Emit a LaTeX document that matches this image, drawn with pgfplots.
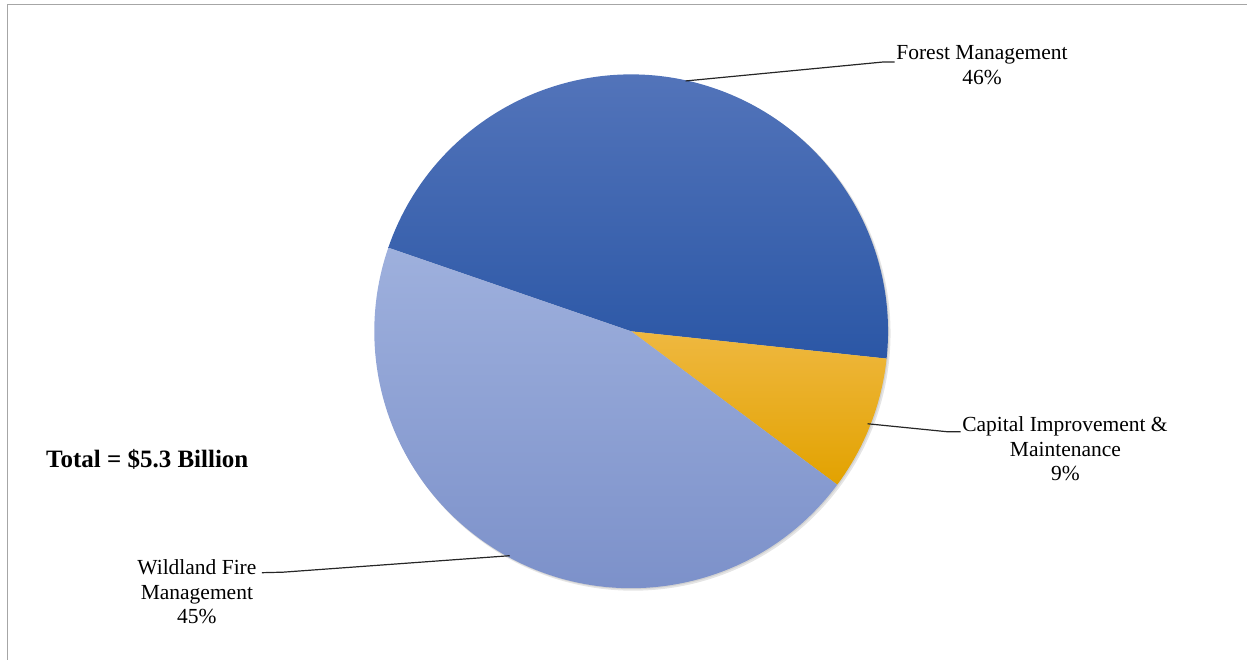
\documentclass[border=0pt]{standalone}
\usepackage{pgfplots}
\pgfplotsset{compat=1.18}
\usepackage{pgfplotstable}
\usepackage{fontspec}
\setmainfont{Liberation Serif}
\definecolor{fmTop}{HTML}{5777BC}
\definecolor{fmBot}{HTML}{2B57A6}
\definecolor{wfTop}{HTML}{9EB0DD}
\definecolor{wfBot}{HTML}{798EC8}
\definecolor{ciTop}{HTML}{EFB840}
\definecolor{ciBot}{HTML}{E2A200}
\pgfplotstableread{
name value
Forest 2.46
Capital 0.45
Wildland 2.39
}\piedata
\begin{document}
\begin{tikzpicture}
\pgfplotstablegetelem{0}{value}\of\piedata \let\vA\pgfplotsretval
\pgfplotstablegetelem{1}{value}\of\piedata \let\vB\pgfplotsretval
\pgfplotstablegetelem{2}{value}\of\piedata \let\vC\pgfplotsretval
\pgfmathsetmacro\tot{\vA+\vB+\vC}
\pgfmathsetmacro\aS{161}
\pgfmathsetmacro\aA{\aS-360*\vA/\tot}
\pgfmathsetmacro\aB{\aA-360*\vB/\tot}
\pgfmathsetmacro\aC{\aB-360*\vC/\tot}
\begin{axis}[
  width=1248pt, height=660pt, scale only axis,
  xmin=0, xmax=1248, ymin=0, ymax=660,
  enlargelimits=false, hide axis, clip=false,
]
\path (axis cs:0,0) rectangle (axis cs:1248,660);
% frame
\draw[gray!70, line width=1.3pt] (axis cs:7.3,0) -- (axis cs:7.3,655.7) -- (axis cs:1248,655.7);
% soft shadow toward lower right
\fill[gray!20] (axis cs:633.5,326.5) circle[radius=257.5pt];
\fill[gray!35] (axis cs:632.5,327.5) circle[radius=257pt];
% wedges
\shade[top color=fmTop, bottom color=fmBot] (axis cs:631.5,328.5) -- ++(\aS:257pt) arc[start angle=\aS, end angle=\aA, radius=257pt] -- cycle;
\shade[top color=ciTop, bottom color=ciBot] (axis cs:631.5,328.5) -- ++(\aA:257pt) arc[start angle=\aA, end angle=\aB, radius=257pt] -- cycle;
\shade[top color=wfTop, bottom color=wfBot] (axis cs:631.5,328.5) -- ++(\aB:257pt) arc[start angle=\aB, end angle=\aC, radius=257pt] -- cycle;
% leader lines
\draw[black!85, line width=1.2pt] (axis cs:686,579) -- (axis cs:884,598) -- (axis cs:895,598);
\draw[black!85, line width=1.2pt] (axis cs:868,236) -- (axis cs:948,228) -- (axis cs:961,228);
\draw[black!85, line width=1.2pt] (axis cs:262,87) -- (axis cs:283,87.5) -- (axis cs:510,104);
% labels
\tikzset{lbl/.style={anchor=base, inner sep=0pt, font=\fontsize{21.5}{24.5}\selectfont}}
\node[lbl] at (axis cs:982.5,600) {Forest Management};
\node[lbl] at (axis cs:982.5,575) {46\%};
\node[lbl] at (axis cs:1065.5,228) {Capital Improvement \&};
\node[lbl] at (axis cs:1066,203.5) {Maintenance};
\node[lbl] at (axis cs:1066,179) {9\%};
\node[lbl] at (axis cs:197,85) {Wildland Fire};
\node[lbl] at (axis cs:197,60.5) {Management};
\node[lbl] at (axis cs:197,36) {45\%};
\node[anchor=base west, inner sep=0pt, font=\fontsize{25}{29}\selectfont\bfseries] at (axis cs:46,192) {Total = \$5.3 Billion};
\end{axis}
\end{tikzpicture}
\end{document}
